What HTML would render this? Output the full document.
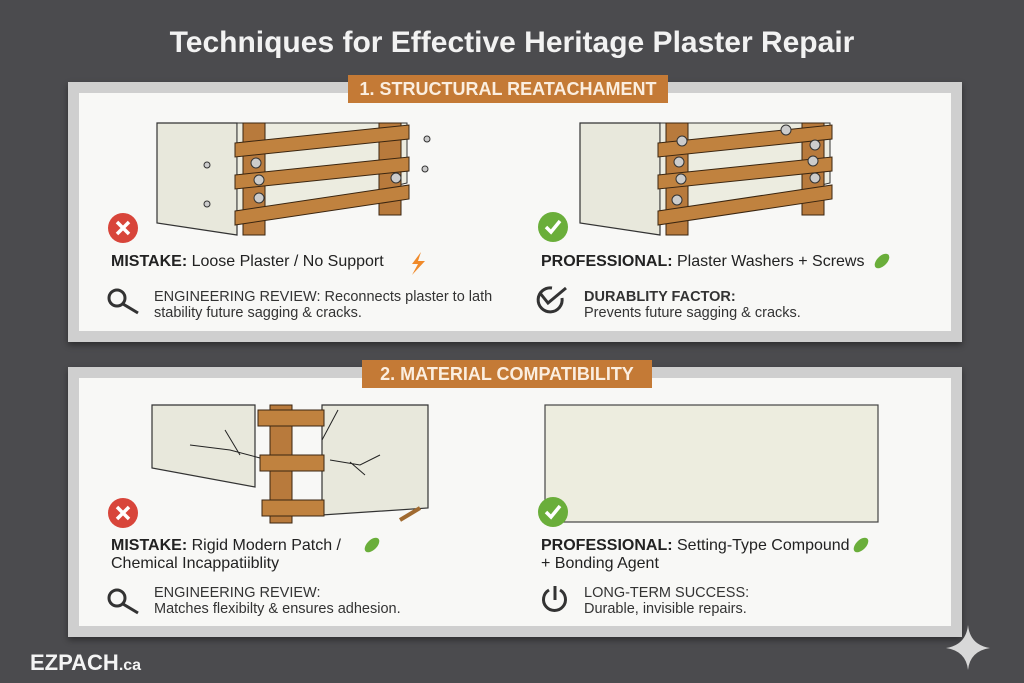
<!DOCTYPE html>
<html><head><meta charset="utf-8"><style>
*{margin:0;padding:0;box-sizing:border-box}
body{width:1024px;height:683px;background:#4b4b4e;position:relative;overflow:hidden;font-family:"Liberation Sans",sans-serif;color:#222}
.a{position:absolute}
.title{left:0;width:1024px;top:26px;text-align:center;color:#f2f2f2;font-size:30px;font-weight:bold}
.panel{background:#f8f8f6;border:11px solid #cfcfcf;box-shadow:0 3px 6px rgba(0,0,0,.4)}
.tag{background:#c47a36;color:#fbeee0;font-weight:bold;font-size:18px;text-align:center;line-height:28px;white-space:nowrap}
.t{font-size:16px;white-space:nowrap;color:#222}
.s{font-size:14.5px;line-height:16px;color:#333;white-space:nowrap}
.brand{left:30px;top:650px;color:#f4f4f4;font-weight:bold;font-size:22px}
</style></head><body>
<div class="a title">Techniques for Effective Heritage Plaster Repair</div>

<div class="a panel" style="left:68px;top:82px;width:894px;height:260px"></div>
<div class="a tag" style="left:348px;top:75px;width:320px">1. STRUCTURAL REATACHAMENT</div>
<div class="a panel" style="left:68px;top:367px;width:894px;height:270px"></div>
<div class="a tag" style="left:362px;top:360px;width:290px">2. MATERIAL COMPATIBILITY</div>

<svg class="a" style="left:0;top:0" width="1024" height="683">
<defs><g id="frame">
<polygon points="0,0 80,0 80,112 0,100" fill="#e8e8dc" stroke="#333" stroke-width="1.2"/>
<polygon points="80,0 250,0 250,60 80,100" fill="#ecece0" stroke="#333" stroke-width="1"/>
<rect x="86" y="0" width="22" height="112" fill="#b87a3c" stroke="#3a2510"/>
<rect x="222" y="0" width="22" height="92" fill="#b87a3c" stroke="#3a2510"/>
<polygon points="78,20 252,2 252,16 78,34" fill="#c0823f" stroke="#3a2510"/>
<polygon points="78,52 252,34 252,48 78,66" fill="#c0823f" stroke="#3a2510"/>
<polygon points="78,88 252,62 252,76 78,102" fill="#c0823f" stroke="#3a2510"/>
</g></defs>
<use href="#frame" x="157" y="123"/>
<use href="#frame" x="580" y="123"/>
<g fill="#ccc" stroke="#333"><circle cx="256" cy="163" r="5"/><circle cx="259" cy="180" r="5"/><circle cx="259" cy="198" r="5"/><circle cx="396" cy="178" r="5"/><circle cx="207" cy="165" r="3"/><circle cx="207" cy="204" r="3"/><circle cx="427" cy="139" r="3"/><circle cx="425" cy="169" r="3"/>
<circle cx="682" cy="141" r="5"/><circle cx="679" cy="162" r="5"/><circle cx="681" cy="179" r="5"/><circle cx="677" cy="200" r="5"/><circle cx="786" cy="130" r="5"/><circle cx="815" cy="145" r="5"/><circle cx="813" cy="161" r="5"/><circle cx="815" cy="178" r="5"/></g>
<polygon points="152,405 255,405 255,487 152,468" fill="#e8e8dc" stroke="#333" stroke-width="1.2"/>
<polygon points="322,405 428,405 428,508 322,515" fill="#e8e8dc" stroke="#333" stroke-width="1.2"/>
<rect x="270" y="405" width="22" height="118" fill="#b87a3c" stroke="#3a2510"/>
<rect x="258" y="410" width="66" height="16" fill="#c0823f" stroke="#3a2510"/>
<rect x="260" y="455" width="64" height="16" fill="#c0823f" stroke="#3a2510"/>
<rect x="262" y="500" width="62" height="16" fill="#c0823f" stroke="#3a2510"/>
<path d="M190,445 L230,450 L260,458 M225,430 L240,455 M322,440 L338,410 M330,460 L360,465 L380,455 M350,462 L365,475" stroke="#222" fill="none"/>
<path d="M400,520 L420,508" stroke="#a06a30" stroke-width="4"/>
<rect x="545" y="405" width="333" height="117" fill="#ededdf" stroke="#444" stroke-width="1.2"/>
<circle cx="123" cy="228" r="15" fill="#d8453a"/><path d="M117,222 L129,234 M129,222 L117,234" stroke="#fff" stroke-width="3.5"/>
<circle cx="553" cy="227" r="15" fill="#6aae3a"/><path d="M546,227 L551,232 L560,221" stroke="#fff" stroke-width="3.5" fill="none"/>
<circle cx="123" cy="513" r="15" fill="#d8453a"/><path d="M117,507 L129,519 M129,507 L117,519" stroke="#fff" stroke-width="3.5"/>
<circle cx="553" cy="512" r="15" fill="#6aae3a"/><path d="M546,512 L551,517 L560,506" stroke="#fff" stroke-width="3.5" fill="none"/>
<g stroke="#333" stroke-width="3" fill="none"><circle cx="117" cy="298" r="8"/><path d="M123,304 L138,313"/><circle cx="117" cy="598" r="8"/><path d="M123,604 L138,613"/>
<path d="M540,293 L548,303 L566,288"/><path d="M562,298 A12,12 0 1 1 552,288"/>
<path d="M549,590 A11,11 0 1 0 560,590"/><path d="M555,586 L555,600"/></g>
<path d="M421,252 L412,264 L418,264 L412,275 L425,261 L418,261 Z" fill="#f08a2a"/>
<ellipse cx="882" cy="261" rx="9" ry="5" transform="rotate(-45 882 261)" fill="#6aae3a"/>
<ellipse cx="372" cy="545" rx="9" ry="5" transform="rotate(-45 372 545)" fill="#6aae3a"/>
<ellipse cx="861" cy="545" rx="9" ry="5" transform="rotate(-45 861 545)" fill="#6aae3a"/>
<path d="M968,625 Q970,645 990,648 Q970,651 968,670 Q966,651 946,648 Q966,645 968,625Z" fill="#d8d8d8"/>
</svg>

<div class="a t" style="left:111px;top:253px"><b>MISTAKE:</b> Loose Plaster / No Support</div>
<div class="a s" style="left:154px;top:289px">ENGINEERING REVIEW: Reconnects plaster to lath<br>stability future sagging &amp; cracks.</div>
<div class="a t" style="left:541px;top:253px"><b>PROFESSIONAL:</b> Plaster Washers + Screws</div>
<div class="a s" style="left:584px;top:289px"><b>DURABLITY FACTOR:</b><br>Prevents future sagging &amp; cracks.</div>

<div class="a t" style="left:111px;top:537px;line-height:18px"><b>MISTAKE:</b> Rigid Modern Patch /<br>Chemical Incappatiiblity</div>
<div class="a s" style="left:154px;top:585px">ENGINEERING REVIEW:<br>Matches flexibilty &amp; ensures adhesion.</div>
<div class="a t" style="left:541px;top:537px;line-height:18px"><b>PROFESSIONAL:</b> Setting-Type Compound<br>+ Bonding Agent</div>
<div class="a s" style="left:584px;top:585px">LONG-TERM SUCCESS:<br>Durable, invisible repairs.</div>

<div class="a brand">EZPACH<span style="font-size:16px">.ca</span></div>
</body></html>
